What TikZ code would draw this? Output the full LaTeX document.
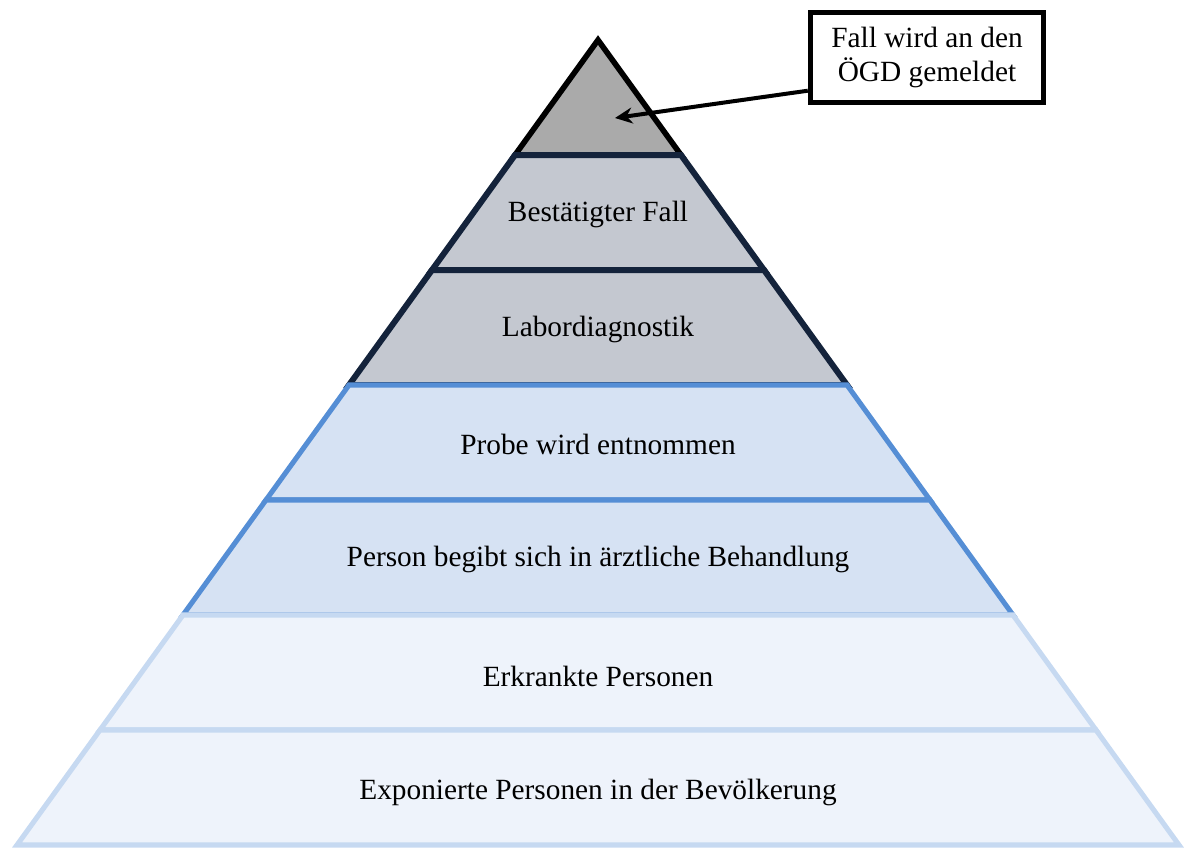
\documentclass[tikz,border=0pt]{standalone}
\usepackage{fontspec}
\setmainfont{Liberation Serif}
\usetikzlibrary{arrows.meta}

\definecolor{topGray}{RGB}{170,170,170}
\definecolor{navyLine}{RGB}{20,35,59}
\definecolor{navyFill}{RGB}{196,200,208}
\definecolor{blueLine}{RGB}{85,142,213}
\definecolor{blueFill}{RGB}{214,226,243}
\definecolor{paleLine}{RGB}{198,217,241}
\definecolor{paleFill}{RGB}{238,243,251}

\begin{document}
\begin{tikzpicture}[x = 0.75pt, y = -0.75pt, font = \fontsize{22}{25}\selectfont]
	\tikzstyle{topStyle} = [draw = black, fill = topGray, line width = 4.2pt]
	\tikzstyle{navyStyle} = [draw = navyLine, fill = navyFill, line width = 4.5pt]
	\tikzstyle{blueStyle} = [draw = blueLine, fill = blueFill, line width = 3.8pt]
	\tikzstyle{paleStyle} = [draw = paleLine, fill = paleFill, line width = 3.8pt]
	\tikzstyle{layerText} = [inner sep = 0pt, anchor = center]
	\tikzstyle{calloutStyle} = [draw, line width = 3.8pt, fill = white, align = center, minimum width = 175pt, minimum height = 68pt, inner sep = 2pt]
	\tikzstyle{arrowStyle} = [line width = 3pt, -{Stealth[length = 13pt, width = 12pt]}]
	\useasboundingbox (0,0) rectangle (1185,847);
	% corners of the pyramid levels
	\foreach \k in {0,...,7}{
		\coordinate (l\k) at ({598-83*\k}, {40+115*\k});
		\coordinate (r\k) at ({598+83*\k}, {40+115*\k});
	}
	\draw[topStyle] (l0) -- (l1) -- (r1) -- cycle;
	\draw[navyStyle] (l1) -- (l2) -- (r2) -- (r1) -- cycle;
	\draw[navyStyle] (l2) -- (l3) -- (r3) -- (r2) -- cycle;
	\draw[blueStyle] (l3) -- (l4) -- (r4) -- (r3) -- cycle;
	\draw[blueStyle] (l4) -- (l5) -- (r5) -- (r4) -- cycle;
	\draw[paleStyle] (l5) -- (l6) -- (r6) -- (r5) -- cycle;
	\draw[paleStyle] (l6) -- (l7) -- (r7) -- (r6) -- cycle;
	\node[layerText] (bestaetigt) at (598, 214) {Bestätigter Fall};
	\node[layerText] (labor) at (598, 329) {Labordiagnostik};
	\node[layerText] (probe) at (598, 444) {Probe wird entnommen};
	\node[layerText] (behandlung) at (598, 559) {Person begibt sich in ärztliche Behandlung};
	\node[layerText] (erkrankt) at (598, 676) {Erkrankte Personen};
	\node[layerText] (exponiert) at (598, 792) {Exponierte Personen in der Bevölkerung};
	\node[calloutStyle] (meldung) at (927, 57.5) {Fall wird an den\\ÖGD gemeldet};
	\coordinate (spitze) at (615, 118);
	\draw[arrowStyle] ([yshift = 11pt]meldung.south west) -- (spitze);
\end{tikzpicture}
\end{document}
